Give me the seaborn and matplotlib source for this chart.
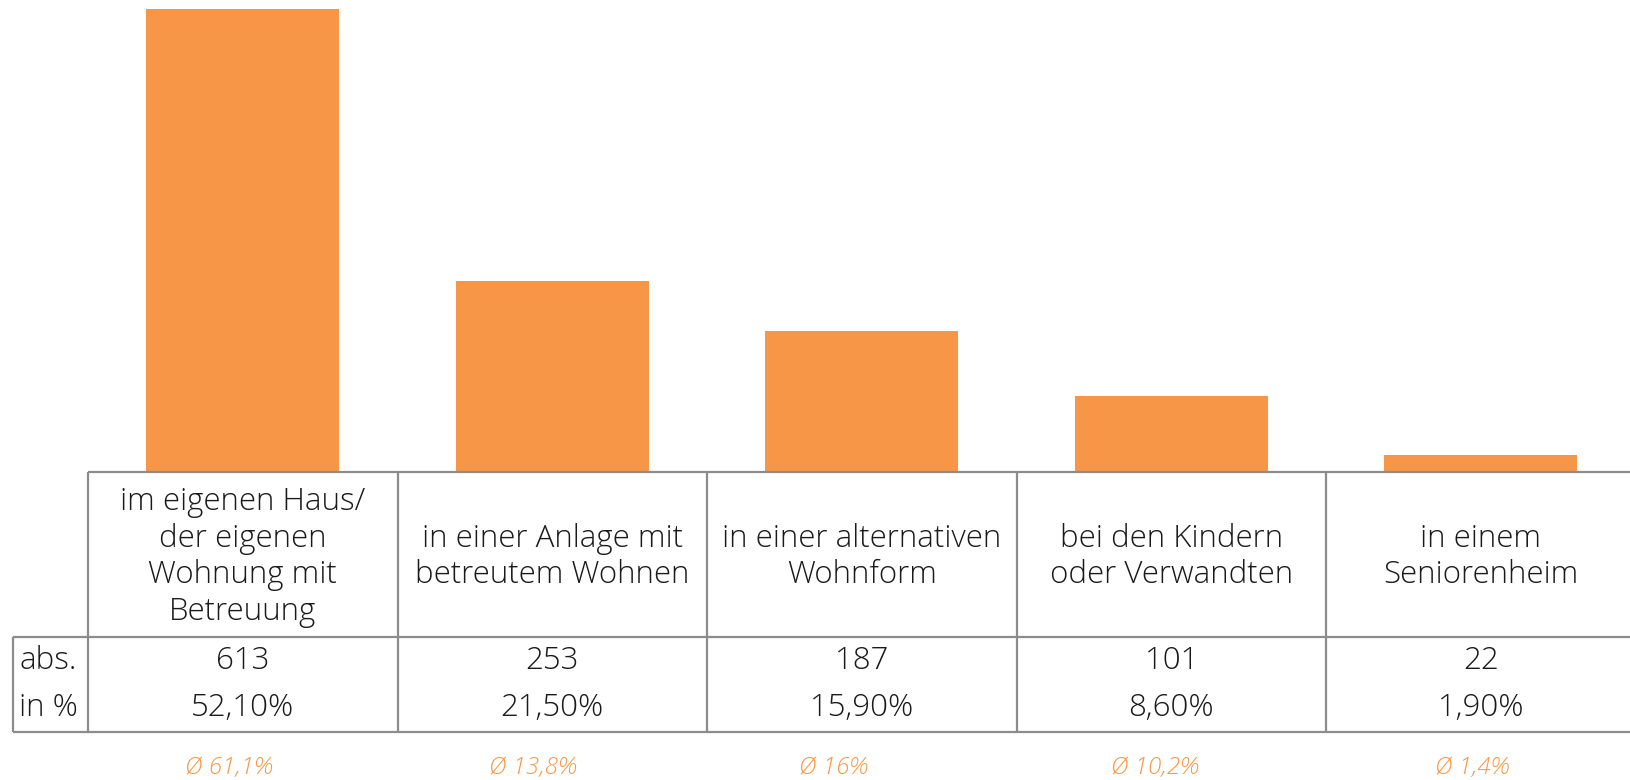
import matplotlib
matplotlib.use("Agg")
import matplotlib.pyplot as plt
import matplotlib.transforms as mtransforms
import seaborn as sns

categories = [
    "im eigenen Haus/\nder eigenen\nWohnung mit\nBetreuung",
    "in einer Anlage mit\nbetreutem Wohnen",
    "in einer alternativen\nWohnform",
    "bei den Kindern\noder Verwandten",
    "in einem\nSeniorenheim",
]
abs_values = [613, 253, 187, 101, 22]
pct_values = [52.10, 21.50, 15.90, 8.60, 1.90]
avg_values = [61.1, 13.8, 16, 10.2, 1.4]

ORANGE = "#F79646"
GRID = "#8c8c8c"
TXT = "#1a1a1a"
W, H = 1630, 780
# the Ø labels sit a bit left of the column centres in the original
avg_shift = [-0.044, -0.064, -0.091, -0.054, -0.027]


def de(v, nd):
    # deutsches Dezimalkomma
    return f"{v:.{nd}f}".replace(".", ",")


def main():
    sns.set_theme(style="white")
    plt.rcParams["font.family"] = ["Open Sans", "DejaVu Sans"]

    fig = plt.figure(figsize=(W / 100, H / 100), dpi=100)
    base = 472
    ax = fig.add_axes([88 / W, 1 - base / H, 5 * 309.5 / W, base / H])

    sns.barplot(x=list(range(len(abs_values))), y=abs_values, color=ORANGE,
                saturation=1, width=0.624, edgecolor="none", ax=ax)
    ax.set_xlim(-0.5, 4.5)
    ax.set_ylim(0, 625)
    ax.set_axis_off()

    tr = mtransforms.blended_transform_factory(ax.transData, fig.transFigure)

    def fy(p):
        return 1 - p / H

    kw = dict(color=GRID, lw=1.6, transform=tr, clip_on=False, solid_capstyle="butt")
    x_left = -0.742
    x_right = 4.6
    # horizontale Linien
    ax.plot([-0.5, x_right], [fy(base), fy(base)], **kw)
    ax.plot([x_left, x_right], [fy(637), fy(637)], **kw)
    ax.plot([x_left, x_right], [fy(732), fy(732)], **kw)
    # vertikale Linien
    ax.plot([x_left, x_left], [fy(637), fy(732)], **kw)
    for i in range(len(categories)):
        ax.plot([i - 0.5, i - 0.5], [fy(base), fy(732)], **kw)

    fs = 22.5
    for i, cat in enumerate(categories):
        ax.text(i, fy(557), cat, transform=tr, ha="center", va="center",
                fontsize=fs, fontweight=300, linespacing=1.2, color=TXT)
        ax.text(i, fy(661), str(abs_values[i]), transform=tr, ha="center",
                va="center", fontsize=fs, fontweight=300, color=TXT)
        ax.text(i, fy(708), de(pct_values[i], 2) + "%", transform=tr,
                ha="center", va="center", fontsize=fs, fontweight=300, color=TXT)
        nd = 1 if avg_values[i] % 1 else 0
        ax.text(i + avg_shift[i], fy(768), "Ø " + de(avg_values[i], nd) + "%",
                transform=tr, ha="center", va="center", fontsize=17.5,
                fontweight=300, style="italic", color=ORANGE)

    ax.text(x_left + 0.02, fy(661), "abs.", transform=tr, ha="left", va="center",
            fontsize=fs, fontweight=300, color=TXT)
    ax.text(x_left + 0.02, fy(708), "in %", transform=tr, ha="left", va="center",
            fontsize=fs, fontweight=300, color=TXT)

    fig.savefig("out.png", dpi=100)


if __name__ == "__main__":
    main()
